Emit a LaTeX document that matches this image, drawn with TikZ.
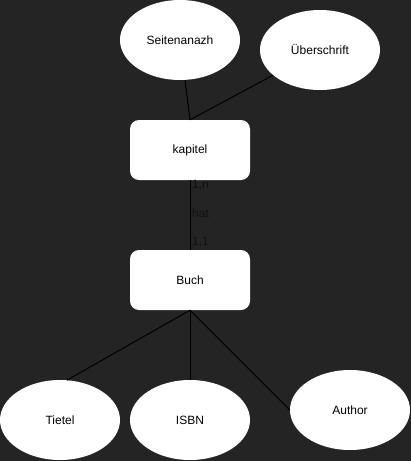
\documentclass[tikz,border=0pt]{standalone}
\usepackage{fontspec}
\setmainfont{Liberation Sans}
\usetikzlibrary{shapes.geometric, math}
\definecolor{mybg}{RGB}{36,36,36}
\definecolor{mytext}{RGB}{17,17,17}

\tikzset{
  attr/.style={ellipse, fill=white, draw=none, minimum width=120pt, minimum height=80pt, inner sep=0pt, font=\fontsize{12}{14}\selectfont},
  entity/.style={rectangle, rounded corners=9pt, fill=white, draw=none, minimum width=120pt, minimum height=60pt, inner sep=0pt, font=\fontsize{12}{14}\selectfont},
  link/.style={draw=black, line width=1pt},
  card/.style={anchor=west, inner sep=0pt, text=mytext, font=\fontsize{12}{14}\selectfont}
}

\begin{document}
\begin{tikzpicture}[x=1pt, y=-1pt]
\tikzmath{
\W=411;
\H=461;
}
\fill[mybg] (0,0) rectangle (\W,\H);
\useasboundingbox (0,0) rectangle (\W,\H);

% entities
\node[entity] (kapitel) at (190,150) {kapitel};
\node[entity] (buch) at (190,280) {Buch};

% attributes
\node[attr] (seiten) at (180,40) {Seitenanazh};
\node[attr] (ueber) at (320,50) {Überschrift};
\node[attr] (tietel) at (60,420) {Tietel};
\node[attr] (isbn) at (190,420) {ISBN};
\node[attr] (author) at (350,410) {Author};

\draw[link] (seiten) -- (kapitel.north);
\draw[link] (ueber) -- (kapitel.north);

\draw[link] (kapitel.south) -- (buch.north);
\node[card] (card1) at (192,185) {1,n};
\node[card] (hat) at (192,213) {hat};
\node[card] (card2) at (192,242) {1,1};

\draw[link] (buch.south) -- (tietel.80);
\draw[link] (buch.south) -- (isbn.north);
\draw[link] (buch.south) -- (author.west);
\end{tikzpicture}
\end{document}
